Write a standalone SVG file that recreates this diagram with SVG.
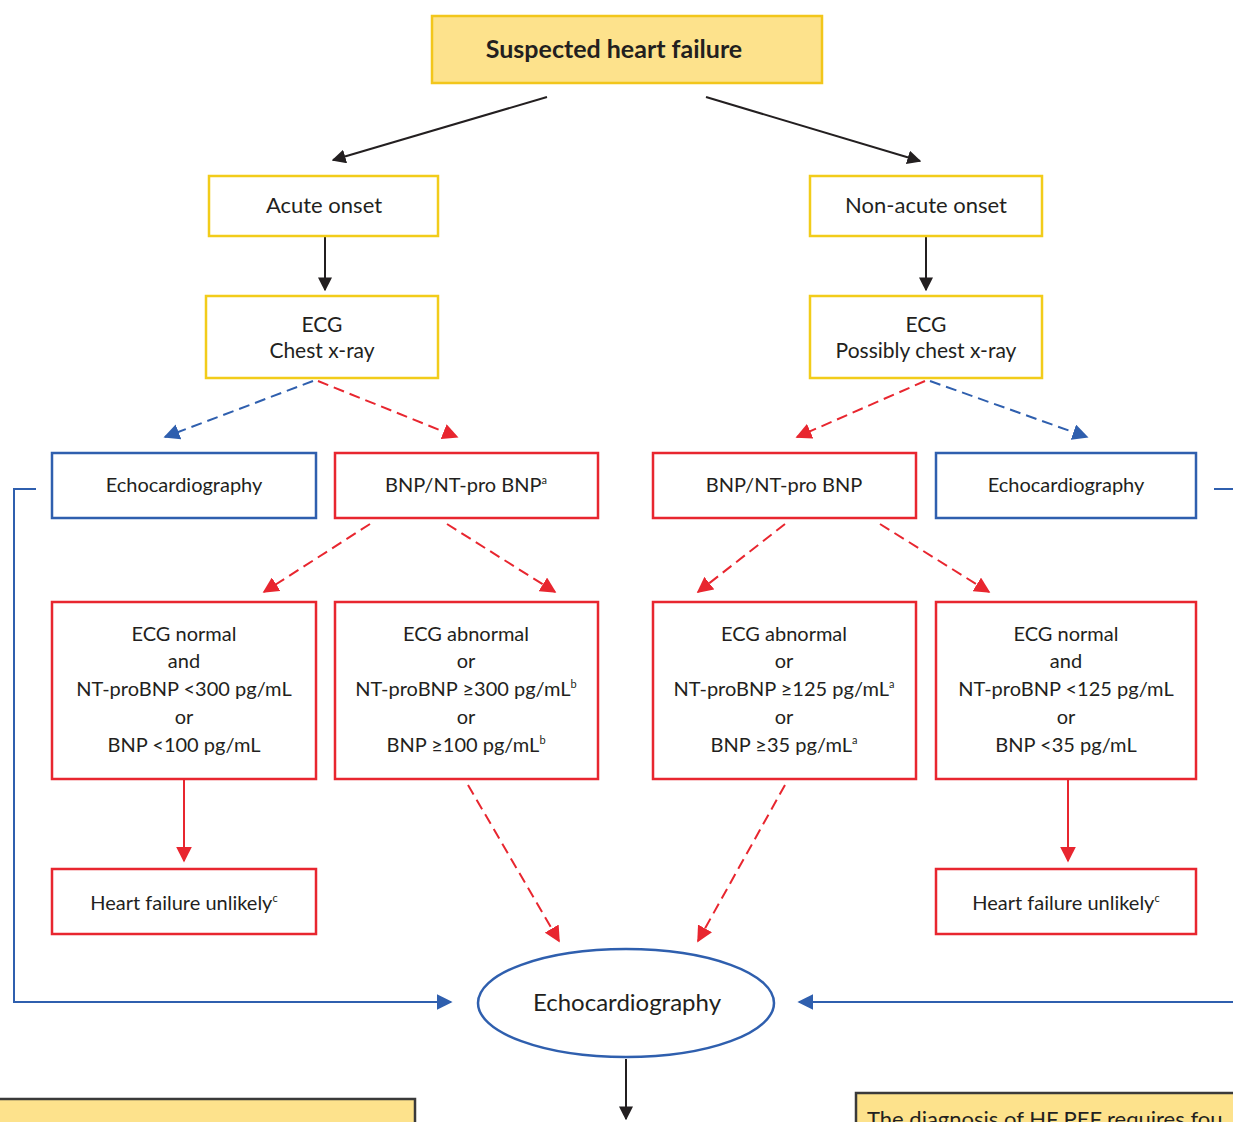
<svg xmlns="http://www.w3.org/2000/svg" width="1233" height="1122" viewBox="0 0 1233 1122">
<style>
.t{font-family:Lato,"Open Sans","Liberation Sans",sans-serif;fill:#231f20;text-anchor:middle}
.s{font-size:22px}
.s2{font-size:21px}
.m{font-size:20px}
.yb{fill:#fff;stroke:#f2cc1a;stroke-width:2.5}
.rb{fill:#fff;stroke:#e8262f;stroke-width:2.5}
.bb{fill:#fff;stroke:#2f5fae;stroke-width:2.5}
.k{stroke:#231f20;stroke-width:2;fill:none}
.r{stroke:#e8262f;stroke-width:2;fill:none}
.rd{stroke:#e8262f;stroke-width:2;fill:none;stroke-dasharray:11 6}
.b{stroke:#2f5fae;stroke-width:2;fill:none}
.bd{stroke:#2f5fae;stroke-width:2;fill:none;stroke-dasharray:11 6}
.sup{font-size:11px}
</style>
<defs>
<marker id="ak" viewBox="0 0 10 10" refX="9" refY="5" markerWidth="14" markerHeight="14" markerUnits="userSpaceOnUse" orient="auto"><path d="M0,0 L10,5 L0,10 Z" fill="#231f20"/></marker>
<marker id="ar" viewBox="0 0 10 10" refX="9" refY="5" markerWidth="16" markerHeight="16" markerUnits="userSpaceOnUse" orient="auto"><path d="M0,0 L10,5 L0,10 Z" fill="#e8262f"/></marker>
<marker id="ab" viewBox="0 0 10 10" refX="9" refY="5" markerWidth="16" markerHeight="16" markerUnits="userSpaceOnUse" orient="auto"><path d="M0,0 L10,5 L0,10 Z" fill="#2f5fae"/></marker>
</defs>
<rect width="1233" height="1122" fill="#fff"/>

<g id="connectors">
<line class="k" x1="547" y1="97" x2="333" y2="160" marker-end="url(#ak)"/>
<line class="k" x1="706" y1="97" x2="920" y2="161" marker-end="url(#ak)"/>
<line class="k" x1="325" y1="237" x2="325" y2="290" marker-end="url(#ak)"/>
<line class="k" x1="926" y1="237" x2="926" y2="290" marker-end="url(#ak)"/>
<line class="bd" x1="313" y1="381" x2="165" y2="437" marker-end="url(#ab)"/>
<line class="rd" x1="318" y1="381" x2="457" y2="437" marker-end="url(#ar)"/>
<line class="rd" x1="925" y1="381" x2="797" y2="437" marker-end="url(#ar)"/>
<line class="bd" x1="930" y1="381" x2="1087" y2="437" marker-end="url(#ab)"/>
<line class="rd" x1="370" y1="524" x2="264" y2="592" marker-end="url(#ar)"/>
<line class="rd" x1="447" y1="524" x2="555" y2="592" marker-end="url(#ar)"/>
<line class="rd" x1="785" y1="524" x2="698" y2="592" marker-end="url(#ar)"/>
<line class="rd" x1="880" y1="524" x2="989" y2="592" marker-end="url(#ar)"/>
<line class="r" x1="184" y1="780" x2="184" y2="861" marker-end="url(#ar)"/>
<line class="r" x1="1068" y1="780" x2="1068" y2="861" marker-end="url(#ar)"/>
<line class="rd" x1="468" y1="785" x2="559" y2="941" marker-end="url(#ar)"/>
<line class="rd" x1="785" y1="785" x2="698" y2="941" marker-end="url(#ar)"/>
<polyline class="b" points="36,489 14,489 14,1002 451,1002" marker-end="url(#ab)"/>
<line class="b" x1="1214" y1="489" x2="1233" y2="489"/>
<line class="b" x1="1233" y1="1002" x2="799" y2="1002" marker-end="url(#ab)"/>
<line class="k" x1="626" y1="1059" x2="626" y2="1119" marker-end="url(#ak)"/>
</g>

<g id="suspected">
<rect x="432" y="16" width="390" height="67" fill="#fde28c" stroke="#f2c61b" stroke-width="2.5"/>
<text class="t" x="614" y="58" font-size="25" font-weight="bold">Suspected heart failure</text>
</g>

<g id="acute">
<rect class="yb" x="209" y="176" width="229" height="60"/>
<text class="t s" x="324" y="213">Acute onset</text>
</g>
<g id="nonacute">
<rect class="yb" x="810" y="176" width="232" height="60"/>
<text class="t s" x="926" y="213">Non-acute onset</text>
</g>

<g id="ecg-left">
<rect class="yb" x="206" y="296" width="232" height="82"/>
<text class="t s2" x="322" y="332">ECG</text>
<text class="t s2" x="322" y="358">Chest x-ray</text>
</g>
<g id="ecg-right">
<rect class="yb" x="810" y="296" width="232" height="82"/>
<text class="t s2" x="926" y="332">ECG</text>
<text class="t s2" x="926" y="358">Possibly chest x-ray</text>
</g>

<g id="echo-left">
<rect class="bb" x="52" y="453" width="264" height="65"/>
<text class="t m" x="184" y="492">Echocardiography</text>
</g>
<g id="bnp-left">
<rect class="rb" x="335" y="453" width="263" height="65"/>
<text class="t m" x="466" y="492">BNP/NT-pro BNP<tspan class="sup" dy="-8">a</tspan></text>
</g>
<g id="bnp-right">
<rect class="rb" x="653" y="453" width="263" height="65"/>
<text class="t m" x="784" y="492">BNP/NT-pro BNP</text>
</g>
<g id="echo-right">
<rect class="bb" x="936" y="453" width="260" height="65"/>
<text class="t m" x="1066" y="492">Echocardiography</text>
</g>

<g id="normal-left">
<rect class="rb" x="52" y="602" width="264" height="177"/>
<text class="t m" x="184" y="641">ECG normal</text>
<text class="t m" x="184" y="668">and</text>
<text class="t m" x="184" y="696">NT-proBNP &lt;300 pg/mL</text>
<text class="t m" x="184" y="724">or</text>
<text class="t m" x="184" y="752">BNP &lt;100 pg/mL</text>
</g>
<g id="abnormal-left">
<rect class="rb" x="335" y="602" width="263" height="177"/>
<text class="t m" x="466" y="641">ECG abnormal</text>
<text class="t m" x="466" y="668">or</text>
<text class="t m" x="466" y="696">NT-proBNP ≥300 pg/mL<tspan class="sup" dy="-8">b</tspan></text>
<text class="t m" x="466" y="724">or</text>
<text class="t m" x="466" y="752">BNP ≥100 pg/mL<tspan class="sup" dy="-8">b</tspan></text>
</g>
<g id="abnormal-right">
<rect class="rb" x="653" y="602" width="263" height="177"/>
<text class="t m" x="784" y="641">ECG abnormal</text>
<text class="t m" x="784" y="668">or</text>
<text class="t m" x="784" y="696">NT-proBNP ≥125 pg/mL<tspan class="sup" dy="-8">a</tspan></text>
<text class="t m" x="784" y="724">or</text>
<text class="t m" x="784" y="752">BNP ≥35 pg/mL<tspan class="sup" dy="-8">a</tspan></text>
</g>
<g id="normal-right">
<rect class="rb" x="936" y="602" width="260" height="177"/>
<text class="t m" x="1066" y="641">ECG normal</text>
<text class="t m" x="1066" y="668">and</text>
<text class="t m" x="1066" y="696">NT-proBNP &lt;125 pg/mL</text>
<text class="t m" x="1066" y="724">or</text>
<text class="t m" x="1066" y="752">BNP &lt;35 pg/mL</text>
</g>

<g id="unlikely-left">
<rect class="rb" x="52" y="869" width="264" height="65"/>
<text class="t m" x="184" y="910">Heart failure unlikely<tspan class="sup" dy="-8">c</tspan></text>
</g>
<g id="unlikely-right">
<rect class="rb" x="936" y="869" width="260" height="65"/>
<text class="t m" x="1066" y="910">Heart failure unlikely<tspan class="sup" dy="-8">c</tspan></text>
</g>

<g id="echo-center">
<ellipse cx="626" cy="1003" rx="148" ry="54" fill="#fff" stroke="#2f5fae" stroke-width="2.5"/>
<text class="t" x="627" y="1011" font-size="24">Echocardiography</text>
</g>

<g id="bottom-left">
<rect x="-5" y="1099" width="420" height="40" fill="#fde28c" stroke="#3a3a3a" stroke-width="2.5"/>
</g>
<g id="bottom-right">
<rect x="856" y="1093" width="390" height="45" fill="#fde28c" stroke="#3a3a3a" stroke-width="2.5"/>
<text x="867" y="1127" font-family="Lato,'Open Sans','Liberation Sans',sans-serif" font-size="22" fill="#231f20">The diagnosis of HF PEF requires fou</text>
</g>
</svg>
